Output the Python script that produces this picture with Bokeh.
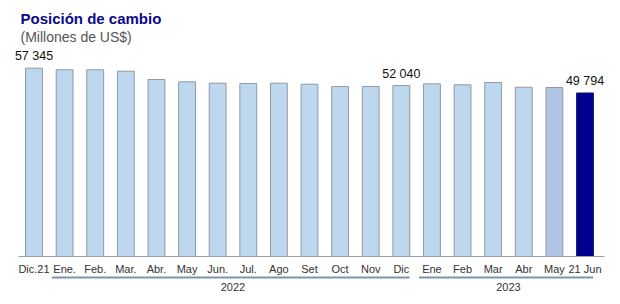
from bokeh.plotting import figure
from bokeh.models import Range1d, Label, ColumnDataSource
from bokeh.core.properties import value
from bokeh.embed import file_html
from bokeh.resources import INLINE

categories = ["Dic.21", "Ene.", "Feb.", "Mar.", "Abr.", "May", "Jun.", "Jul.", "Ago",
              "Set", "Oct", "Nov", "Dic", "Ene", "Feb", "Mar", "Abr", "May", "21 Jun"]
values = [57345, 56850, 56850, 56420, 53900, 53190, 52770, 52680, 52770,
          52460, 51760, 51760, 52040, 52580, 52280, 52980, 51550, 51460, 49794]
labelled = {0: "57 345", 12: "52 040", 18: "49 794"}
years = ["2022", "2023"]
year_spans = [(1, 12), (13, 18)]

FONT = "Liberation Sans"
W, H = 620, 304
k = 30.611  # px per category
x0 = -33.5 / k
ypx = 304.5  # value per pixel
base_px = 48

p = figure(width=W, height=H, output_backend="svg", toolbar_location=None,
           x_range=Range1d(x0, x0 + W / k),
           y_range=Range1d(-base_px * ypx, (H - base_px) * ypx),
           min_border=0, min_border_left=0, min_border_right=0,
           min_border_top=0, min_border_bottom=0)
p.axis.visible = False
p.grid.visible = False
p.outline_line_color = None
p.background_fill_color = "white"
p.border_fill_color = "white"

xs = list(range(len(categories)))
fills = ["#BDD7EE"] * len(values)
lines = ["#8E9AA6"] * len(values)
fills[-2] = "#B0C4E4"
fills[-1] = "#00008F"
lines[-1] = "#1A1A6E"
src = ColumnDataSource(dict(x=xs, top=values, fill=fills, line=lines, cat=categories,
                            ly=[-12 * ypx] * len(xs)))
p.vbar(x="x", top="top", bottom=0, width=0.55, fill_color="fill", line_color="line",
       line_width=1, source=src)

# baseline
p.segment(x0=[x0 + 18 / k], x1=[x0 + 604 / k], y0=[0], y1=[0], line_color="#9AA3AD", line_width=1)

# category labels
p.text(x="x", y="ly", text="cat", source=src, text_align="center",
       text_baseline="middle", text_font=value(FONT), text_font_size="11px",
       text_color="#333333")

# value labels
lx = [i for i in labelled]
p.text(x=lx, y=[values[i] for i in lx], text=[labelled[i] for i in lx],
       text_align="center", text_baseline="bottom", y_offset=-5,
       text_font=value(FONT), text_font_size="12.5px", text_color="#111111")

# year brackets
for (a, b), yr in zip(year_spans, years):
    p.segment(x0=[a - 0.42], x1=[b + 0.27], y0=[-21 * ypx], y1=[-21 * ypx],
              line_color="#7F93AC", line_width=2)
    p.text(x=[(a + b) / 2], y=[-30 * ypx], text=[yr], text_align="center",
           text_baseline="middle", text_font=value(FONT), text_font_size="11px",
           text_color="#333333")

p.add_layout(Label(x=20, y=H - 26, x_units="screen", y_units="screen",
                   text="Posición de cambio", text_font=FONT, text_font_size="15px",
                   text_font_style="bold", text_color="#0A0A8A"))
p.add_layout(Label(x=20, y=H - 44, x_units="screen", y_units="screen",
                   text="(Millones de US$)", text_font=FONT, text_font_size="14px",
                   text_color="#555555"))

open("out.html", "w").write(file_html(p, INLINE))
